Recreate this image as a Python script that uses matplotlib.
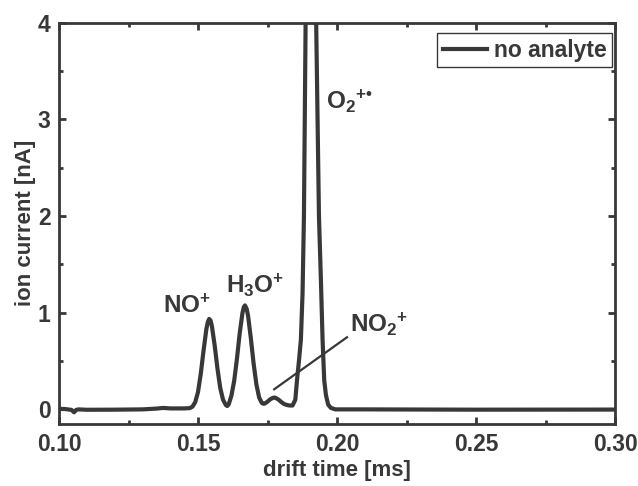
import matplotlib
matplotlib.use("Agg")
import matplotlib.pyplot as plt
from matplotlib.ticker import MultipleLocator

plt.rcParams['font.family'] = ['Liberation Sans', 'DejaVu Sans']
plt.rcParams['font.weight'] = 'bold'
plt.rcParams['mathtext.fontset'] = 'custom'
plt.rcParams['mathtext.rm'] = 'Liberation Sans:bold'
plt.rcParams['mathtext.it'] = 'Liberation Sans:bold'
plt.rcParams['mathtext.bf'] = 'Liberation Sans:bold'

# drift time [ms] and ion current [nA]
drift_time = [
    0.100, 0.102, 0.1045, 0.1054, 0.1062, 0.107, 0.110, 0.120, 0.130, 0.135,
    0.1375, 0.140, 0.145, 0.147, 0.148, 0.149, 0.150, 0.151, 0.152, 0.153,
    0.1535, 0.154, 0.1545, 0.155, 0.156, 0.157, 0.158, 0.159, 0.160, 0.1605,
    0.161, 0.162, 0.163, 0.164, 0.165, 0.166, 0.1665, 0.1669, 0.1675, 0.168,
    0.169, 0.170, 0.171, 0.172, 0.173, 0.1735, 0.174, 0.175, 0.176, 0.177,
    0.1775, 0.178, 0.179, 0.180, 0.181, 0.182, 0.183, 0.184, 0.1850, 0.1856,
    0.1863, 0.1870, 0.1876, 0.1881, 0.1887, 0.1897, 0.1906, 0.1915, 0.1925,
    0.1935, 0.1942, 0.1948, 0.1954, 0.1960, 0.1968, 0.1978, 0.1994, 0.210,
    0.250, 0.300,
]
ion_current = [
    0.005, 0.004, -0.005, -0.030, -0.005, 0.000, -0.004, -0.003, 0.000, 0.008,
    0.015, 0.010, 0.010, 0.013, 0.028, 0.075, 0.180, 0.370, 0.610, 0.830,
    0.900, 0.935, 0.920, 0.860, 0.660, 0.420, 0.220, 0.100, 0.045, 0.035,
    0.050, 0.140, 0.294, 0.523, 0.789, 1.000, 1.060, 1.075, 1.040, 0.968,
    0.736, 0.473, 0.258, 0.121, 0.065, 0.058, 0.060, 0.080, 0.105, 0.120,
    0.122, 0.118, 0.100, 0.075, 0.055, 0.045, 0.040, 0.040, 0.100, 0.300,
    0.500, 0.720, 1.200, 2.000, 4.000, 8.000, 10.00, 8.000, 4.000,
    2.000, 1.340, 0.720, 0.300, 0.150, 0.050, 0.015, 0.000, 0.000,
    -0.003, -0.002,
]

dark = '#383838'

fig = plt.figure(figsize=(6.38, 4.86), dpi=100)
ax = fig.add_axes([0.0925, 0.1286, 0.8715, 0.8249])

ax.plot(drift_time, ion_current, color=dark, lw=3, label='no analyte')
ax.set_xlim(0.10, 0.30)
ax.set_ylim(-0.146, 4)

ax.xaxis.set_major_locator(MultipleLocator(0.05))
ax.xaxis.set_minor_locator(MultipleLocator(0.025))
ax.yaxis.set_major_locator(MultipleLocator(1))
ax.yaxis.set_minor_locator(MultipleLocator(0.5))
ax.xaxis.set_major_formatter(plt.FormatStrFormatter('%.2f'))
ax.tick_params(which='both', direction='in', top=True, right=True,
               color=dark, labelcolor=dark, labelsize=16.5)
ax.tick_params(which='major', length=5, width=2)
ax.tick_params(which='minor', length=3, width=2)
ax.tick_params(axis='x', pad=7)
ax.tick_params(axis='y', pad=6)
for s in ax.spines.values():
    s.set_linewidth(2)
    s.set_color(dark)

ax.set_xlabel('drift time [ms]', fontsize=16, fontweight='bold', color=dark, labelpad=3)
ax.set_ylabel('ion current [nA]', fontsize=16, fontweight='bold', color=dark, labelpad=1)

# peak labels
kw = dict(fontsize=17.5, fontweight='bold', color=dark, va='baseline', ha='left')
ax.text(0.1374, 0.994, 'NO$^{+}$', **kw)
ax.text(0.1601, 1.20, 'H$_{3}$O$^{+}$', **kw)
ax.text(0.1962, 3.11, 'O$_{2}{}^{+\u2022}$', **kw)
ax.text(0.2047, 0.80, 'NO$_{2}{}^{+}$', **kw)
ax.plot([0.1774, 0.2036], [0.208, 0.746], color=dark, lw=1.6)

leg = ax.legend(loc='upper right', bbox_to_anchor=(0.9946, 0.974),
                fontsize=16.5, frameon=True, fancybox=False,
                handlelength=1.9, borderpad=0.25, handletextpad=0.3,
                borderaxespad=0, labelcolor=dark)
leg.get_frame().set_edgecolor(dark)
leg.get_frame().set_linewidth(1)
leg.get_frame().set_alpha(1)
for t in leg.get_texts():
    t.set_fontweight('bold')

fig.savefig('out.png', dpi=100)
